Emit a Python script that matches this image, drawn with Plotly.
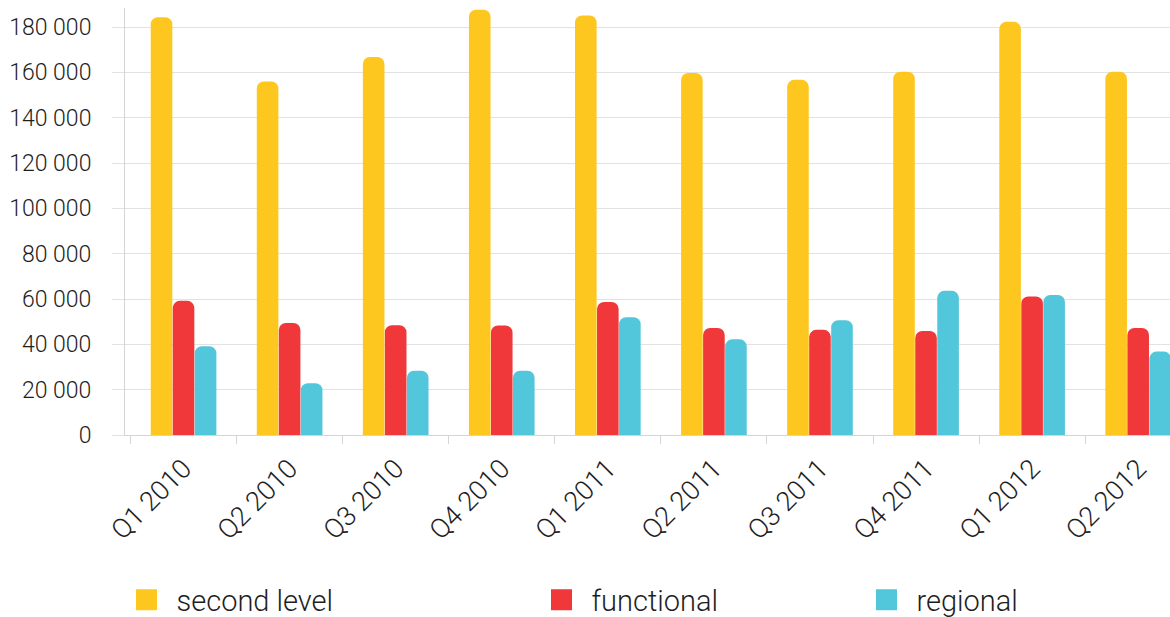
import plotly.graph_objects as go

categories = ["Q1 2010", "Q2 2010", "Q3 2010", "Q4 2010", "Q1 2011",
              "Q2 2011", "Q3 2011", "Q4 2011", "Q1 2012", "Q2 2012"]
second_level = [184300, 156000, 166800, 187600, 185100, 159700, 156700, 160300, 182300, 160300]
functional = [59200, 49400, 48400, 48300, 58700, 47200, 46400, 45900, 61100, 47200]
regional = [39200, 22800, 28400, 28400, 52000, 42200, 50600, 63600, 61800, 36800]
series_names = ["second level", "functional", "regional"]
colors = ["#FEC71F", "#F0383B", "#52C6DA"]

FONT = "Roboto"
TXT = "#1e1e1e"
W, H = 1170, 617

fig = go.Figure()
for name, vals, col in zip(series_names, [second_level, functional, regional], colors):
    fig.add_trace(go.Bar(x=categories, y=vals, name=name, marker_color=col,
                         marker_line_width=0, showlegend=False))

legend_ids = ["legend", "legend2", "legend3"]
legend_left = [116.5, 531.5, 856.5]
for name, col, lid in zip(series_names, colors, legend_ids):
    fig.add_trace(go.Scatter(x=[categories[0]], y=[None], mode="markers", name=name,
                             marker=dict(symbol="square", size=16, color=col,
                                         line=dict(color=col, width=5)),
                             legend=lid, showlegend=True))

leg_common = dict(orientation="h", xref="container", yref="container",
                  yanchor="middle", xanchor="left", itemwidth=50,
                  font=dict(family=FONT, size=29, color=TXT, weight=300),
                  bgcolor="rgba(0,0,0,0)")
legends = {}
for lid, px in zip(legend_ids, legend_left):
    d = dict(leg_common)
    d["x"] = px / W
    d["y"] = 1 - 600 / H
    legends[lid] = d

fig.update_layout(
    width=W, height=H,
    margin=dict(l=125, r=0, t=8, b=182),
    paper_bgcolor="white", plot_bgcolor="white",
    separators=". ",
    barmode="group", bargap=0.377, bargroupgap=0.02,
    barcornerradius=7,
    font=dict(family=FONT, color=TXT, weight=300),
    **legends,
)
fig.update_xaxes(
    range=[-0.552, 9.30], showgrid=False, showline=True, linecolor="#d4d4d4",
    linewidth=1, ticks="outside", tickson="boundaries", ticklen=8,
    tickcolor="#d4d4d4", tickangle=-45, ticklabelstandoff=6, automargin=False,
    tickfont=dict(family=FONT, size=27, color=TXT, weight=300),
)
fig.update_yaxes(
    range=[0, 188400], dtick=20000, tickformat=",d", showgrid=True,
    gridcolor="#e2e2e2", gridwidth=1, zeroline=False, showline=True,
    linecolor="#d4d4d4", ticks="outside", ticklen=12, tickcolor="#e2e2e2",
    ticklabelstandoff=16, automargin=False,
    tickfont=dict(family=FONT, size=23, color=TXT, weight=300),
)
fig.write_html(
    "out.html",
    config={"displayModeBar": False},
    post_script=("document.documentElement.style.overflow='hidden';"
                 "document.body.style.overflow='hidden';"
                 "document.body.style.margin='0';"),
)
